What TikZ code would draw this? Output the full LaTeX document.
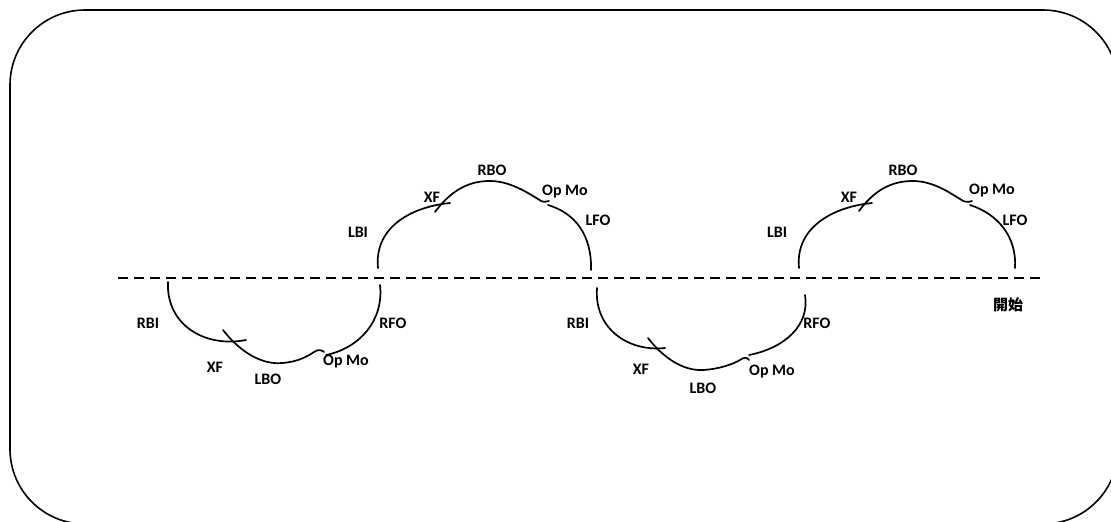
\documentclass[tikz,border=0pt]{standalone}
\usepackage{fontspec}
\setmainfont{Carlito}
\newfontfamily\cjk{Noto Sans CJK TC}
\begin{document}
\begin{tikzpicture}[x=1pt,y=-1pt,
  lbl/.style={font=\fontsize{16}{19}\selectfont\bfseries, inner sep=0pt},
  arcline/.style={line width=1.7pt, line cap=round},
  axis/.style={line width=1.5pt, dash pattern=on 10pt off 6pt},
  frame/.style={line width=1.6pt, rounded corners=75pt}]
\useasboundingbox (0,0) rectangle (1111,522);
\clip (0,0) rectangle (1111,522);
\draw[frame] (10,10) rectangle (1118,524);
\draw[axis] (118,278) -- (1045,278);

% upper lobe 1
\draw[arcline] (378,268) .. controls (374,228) and (410,207) .. (450,203);
\draw[arcline] (435,212) .. controls (455,185) and (475,181) .. (490,181) .. controls (510,181) and (528,193) .. (538,199) .. controls (543,203) and (546,202) .. (549,201);
\draw[arcline] (548,205) .. controls (575,213) and (592,235) .. (591,270);
\node[lbl] (lbi1) at (358,232) {LBI};
\node[lbl] (xf1) at (432,197) {XF};
\node[lbl] (rbo1) at (492,170) {RBO};
\node[lbl] (opmo1) at (565,192) {Op Mo};
\node[lbl] (lfo1) at (598,220) {LFO};

% upper lobe 2
\draw[arcline] (799,268) .. controls (795,228) and (832,207) .. (872,203);
\draw[arcline] (859,211) .. controls (878,185) and (898,181) .. (913,181) .. controls (933,181) and (950,193) .. (960,199) .. controls (965,203) and (969,202) .. (972,201);
\draw[arcline] (970,205) .. controls (998,214) and (1017,237) .. (1015,268);
\node[lbl] (lbi2) at (777,232) {LBI};
\node[lbl] (xf2) at (849,197) {XF};
\node[lbl] (rbo2) at (903,170) {RBO};
\node[lbl] (opmo2) at (992,191) {Op Mo};
\node[lbl] (lfo2) at (1015,220) {LFO};

% lower lobe 1
\draw[arcline] (168,282) .. controls (166,325) and (205,348) .. (246,340);
\draw[arcline] (223,330) .. controls (240,352) and (262,365) .. (282,363) .. controls (298,362) and (308,356) .. (314,352) .. controls (318,349) and (322,350) .. (324,352);
\draw[arcline] (326,355) .. controls (360,348) and (384,320) .. (380,285);
\node[lbl] (rbi1) at (148,323) {RBI};
\node[lbl] (xf3) at (215,367) {XF};
\node[lbl] (lbo1) at (268,379) {LBO};
\node[lbl] (opmo3) at (346,362) {Op Mo};
\node[lbl] (rfo1) at (393,323) {RFO};

% lower lobe 2
\draw[arcline] (597,288) .. controls (594,330) and (630,352) .. (665,348);
\draw[arcline] (648,338) .. controls (665,360) and (685,371) .. (703,370) .. controls (720,369) and (733,364) .. (740,360) .. controls (744,357) and (747,357) .. (749,360);
\draw[arcline] (749,355) .. controls (785,348) and (810,325) .. (805,295);
\node[lbl] (rbi2) at (578,323) {RBI};
\node[lbl] (xf4) at (641,369) {XF};
\node[lbl] (lbo2) at (703,388) {LBO};
\node[lbl] (opmo4) at (772,372) {Op Mo};
\node[lbl] (rfo2) at (817,323) {RFO};

\node[font=\cjk\fontsize{15}{17}\selectfont\bfseries, inner sep=0pt] (start) at (1008,305) {開始};
\end{tikzpicture}
\end{document}
